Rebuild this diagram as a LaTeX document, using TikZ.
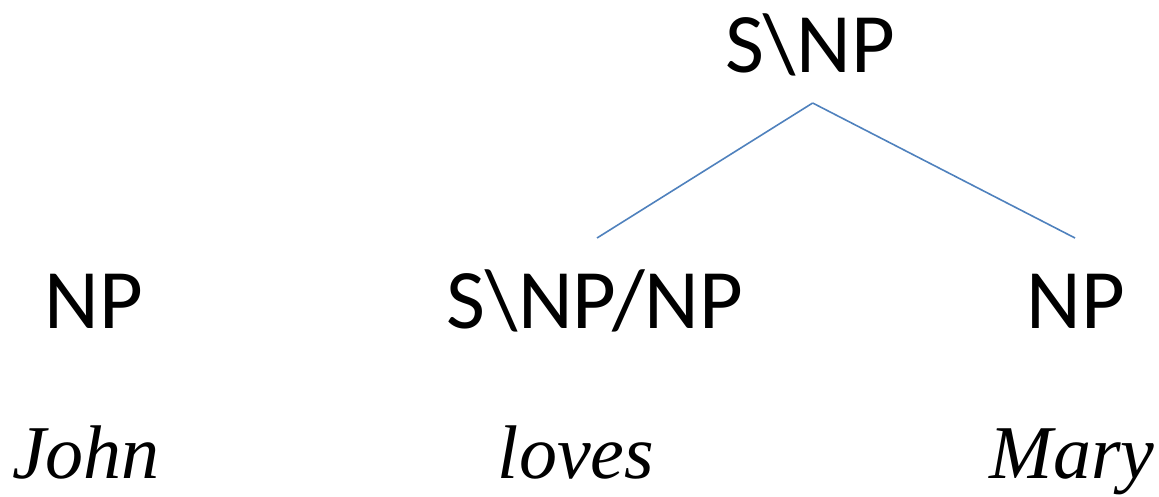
\documentclass[tikz,border=0pt]{standalone}
\usepackage{fontspec}
\setmainfont{Liberation Serif}
\newfontfamily\catfont{Carlito}
\usetikzlibrary{positioning}
\definecolor{branchblue}{HTML}{4F81BD}
\tikzstyle{cat} = [inner sep=0pt, anchor=base, font=\catfont\fontsize{63.5}{70}\selectfont]
\tikzstyle{word} = [inner sep=0pt, anchor=base, font=\itshape\fontsize{57}{62}\selectfont]
\tikzstyle{branch} = [draw=branchblue, line width=1.2pt]

\begin{document}
\begin{tikzpicture}[x=0.75pt, y=-0.75pt]
\useasboundingbox (0,0) rectangle (1159,496);

% Categories
\node (top) [cat] at (810,72) {S\textbackslash NP};
\node (subj) [cat] at (94,328) {NP};
\node (verb) [cat] at (595,328) {S\textbackslash NP/NP};
\node (obj) [cat] at (1076,328) {NP};

% Words
\node (john) [word] at (86,478) {John};
\node (loves) [word] at (576,478) {loves};
\node (mary) [word] at (1072,478) {Mary};

% Branches
\draw [branch] ([xshift=2pt,yshift=-23.25pt]top.base) -- ([xshift=1.5pt,yshift=67.5pt]verb.base);
\draw [branch] ([xshift=2pt,yshift=-23.25pt]top.base) -- ([xshift=-0.75pt,yshift=67.5pt]obj.base);

\end{tikzpicture}
\end{document}
